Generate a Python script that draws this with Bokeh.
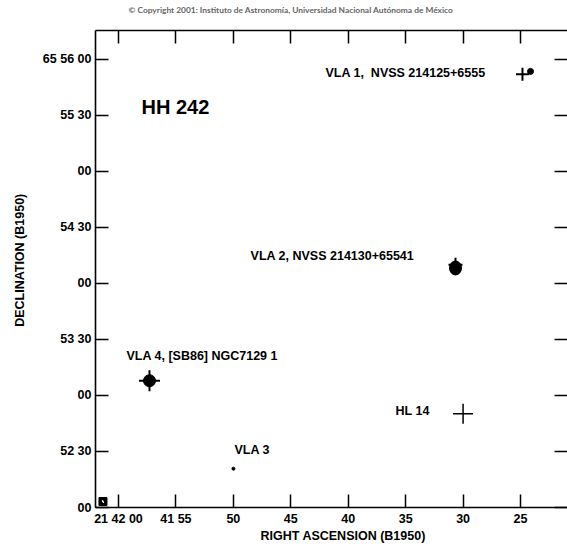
from bokeh.plotting import figure
from bokeh.models import Range1d, LinearAxis, FixedTicker, Title, ColumnDataSource
from bokeh.core.properties import value
from bokeh.embed import file_html
from bokeh.resources import INLINE

# RA in seconds past 21h41m (B1950); Dec in arcsec past 65d52m (B1950)
ra_ticks = [60, 55, 50, 45, 40, 35, 30, 25]
ra_labels = ["21 42 00", "41 55", "50", "45", "40", "35", "30", "25"]
dec_ticks = [0, 30, 60, 90, 120, 150, 180, 210, 240]
dec_labels = ["00", "52 30", "00", "53 30", "00", "54 30", "00", "55 30", "65 56 00"]

# sources
blob_names = ["VLA 1", "VLA 2", "VLA 4", "VLA 3"]
blob_ra = [24.13, 30.66, 57.30, 49.99]
blob_dec = [233.6, 128.3, 67.9, 20.8]

plus_names = ["VLA 1", "VLA 2", "VLA 4", "HL 14"]
plus_ra = [24.83, 30.66, 57.30, 30.0]
plus_dec = [232.0, 130.0, 67.9, 50.2]

label_texts = ["VLA 1,\u00a0 NVSS 214125+6555", "VLA 2, NVSS 214130+65541",
               "VLA 4, [SB86] NGC7129 1", "HL 14", "VLA 3"]
label_ra = [41.98, 48.5, 59.3, 35.88, 49.9]
label_dec = [232.5, 134.7, 81.2, 51.8, 31.0]

title_text = "HH 242"
title_ra = 58.0
title_dec = 214.3

beam_ra = [61.35]
beam_dec = [3.2]

FONT = value("Liberation Sans")

p = figure(width=567, height=544, x_range=Range1d(62.0, 20.91), y_range=Range1d(0, 255.5),
           output_backend="svg", toolbar_location=None,
           min_border_left=95, min_border_right=0, min_border_top=30, min_border_bottom=36)
p.outline_line_color = None
p.grid.visible = False
p.background_fill_color = "white"
p.border_fill_color = "white"

xt = FixedTicker(ticks=ra_ticks)
yt = FixedTicker(ticks=dec_ticks)

def style(ax):
    ax.major_tick_in = 13
    ax.major_tick_out = 0
    ax.minor_tick_line_color = None
    ax.major_tick_line_width = 1.5
    ax.major_tick_line_color = "black"
    ax.axis_line_width = 1.6
    ax.axis_line_color = "black"
    ax.major_label_text_font = "Liberation Sans"
    ax.major_label_text_font_style = "bold"
    ax.major_label_text_font_size = "12.5px"
    ax.major_label_text_color = "black"
    ax.axis_label_text_font = "Liberation Sans"
    ax.axis_label_text_font_style = "bold"
    ax.axis_label_text_font_size = "12.5px"
    ax.axis_label_text_color = "black"

p.xaxis.ticker = xt
p.yaxis.ticker = yt
p.xaxis.major_label_overrides = dict(zip(ra_ticks, ra_labels))
p.yaxis.major_label_overrides = dict(zip(dec_ticks, dec_labels))
style(p.xaxis[0]); style(p.yaxis[0])
p.yaxis.axis_label = "\u00a0" * 5 + "DECLINATION (B1950)"
p.xaxis.major_label_standoff = 4
p.yaxis.major_label_standoff = 4
p.yaxis.axis_label_standoff = 13

top = LinearAxis(ticker=xt)
style(top)
top.major_label_text_color = None
top.major_label_text_font_size = "1px"
top.major_label_standoff = 0
p.add_layout(top, "above")

right = LinearAxis(ticker=yt)
style(right)
right.axis_line_color = None
right.major_label_text_color = None
right.major_label_text_font_size = "1px"
right.major_label_standoff = 0
p.add_layout(right, "right")

# markers
p.ellipse(x=blob_ra[:1], y=blob_dec[:1], width=6, height=6, width_units="screen", height_units="screen",
          fill_color="black", line_color="black")
p.ellipse(x=blob_ra[1:2], y=blob_dec[1:2], width=12, height=14, width_units="screen", height_units="screen",
          fill_color="black", line_color="black")
p.ellipse(x=blob_ra[2:3], y=blob_dec[2:3], width=12, height=12, width_units="screen", height_units="screen",
          fill_color="black", line_color="black")
p.ellipse(x=blob_ra[3:4], y=blob_dec[3:4], width=3, height=3, width_units="screen", height_units="screen",
          fill_color="black", line_color="black")

p.scatter(x=plus_ra[:1], y=plus_dec[:1], marker="cross", size=13, line_color="black", line_width=2)
p.scatter(x=plus_ra[1:2], y=plus_dec[1:2], marker="cross", size=14, line_color="black", line_width=2)
p.scatter(x=plus_ra[2:3], y=plus_dec[2:3], marker="cross", size=21, line_color="black", line_width=2)
p.scatter(x=plus_ra[3:4], y=plus_dec[3:4], marker="cross", size=20, line_color="black", line_width=1.5)

# beam
p.rect(x=beam_ra, y=beam_dec, width=8, height=8, width_units="screen", height_units="screen",
       fill_color="black", line_color="black")
p.ellipse(x=beam_ra, y=beam_dec, width=1.5, height=3.5, angle=0.6, width_units="screen", height_units="screen",
          fill_color="white", line_color=None)

src = ColumnDataSource(dict(x=label_ra, y=label_dec, t=label_texts))
p.text(x="x", y="y", text="t", source=src, text_font=FONT, text_font_style="bold",
       text_font_size="12.5px", text_align="left", text_baseline="middle", text_color="black")
p.text(x=[title_ra], y=[title_dec], text=[title_text], text_font=FONT, text_font_style="bold",
       text_font_size="20px", text_align="left", text_baseline="middle", text_color="black")

xlab = Title(text="RIGHT ASCENSION (B1950)", align="left", offset=165, standoff=0,
             vertical_align="top",
             text_font="Liberation Sans", text_font_style="bold", text_font_size="12.5px",
             text_color="black")
p.add_layout(xlab, "below")

cp = Title(text="\u00a9 Copyright 2001: Instituto de Astronom\u00eda, Universidad Nacional Aut\u00f3noma de M\u00e9xico\n\u00a0",
           align="left", offset=33, standoff=8, vertical_align="top",
           text_font="Lato", text_font_size="8.4px", text_color="#666666", text_font_style="bold")
p.add_layout(cp, "above")

open("out.html", "w").write(file_html(p, INLINE))
